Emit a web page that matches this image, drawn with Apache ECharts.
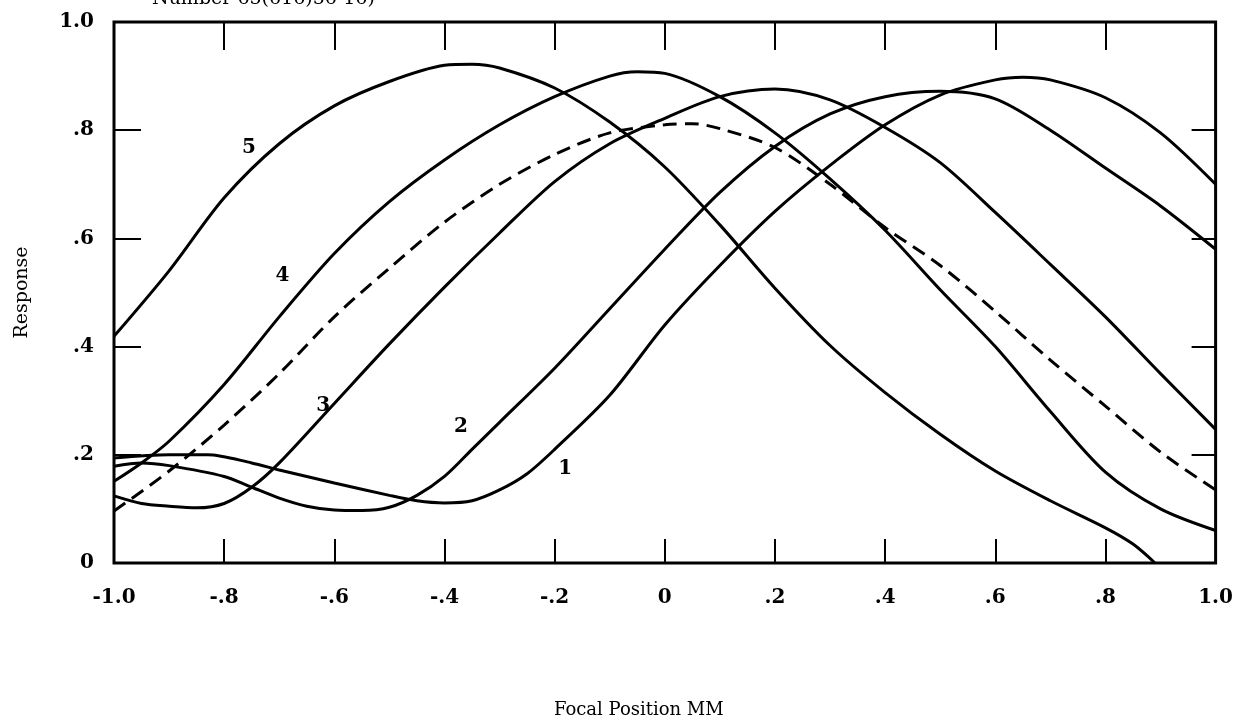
<!DOCTYPE html>
<html><head><meta charset="utf-8">
<script src="https://cdn.jsdelivr.net/npm/echarts@6/dist/echarts.min.js"></script>
<style>html,body{margin:0;padding:0;background:#fff}#c{width:1236px;height:724px}</style>
</head><body><div id="c"></div><script>
const xTickLabels = ['-1.0','-.8','-.6','-.4','-.2','0','.2','.4','.6','.8','1.0'];
const yTickLabels = ['0','.2','.4','.6','.8','1.0'];
const curveLabels = [[-0.755,0.768,'5'],[-0.694,0.53,'4'],[-0.62,0.29,'3'],[-0.37,0.252,'2'],[-0.181,0.175,'1']];

const curve1 = [[-1,0.194],[-0.9,0.2],[-0.83,0.2],[-0.75,0.185],[-0.7,0.172],[-0.6,0.148],[-0.5,0.125],[-0.45,0.115],[-0.4,0.111],[-0.35,0.115],[-0.3,0.135],[-0.25,0.165],[-0.2,0.21],[-0.1,0.31],[0,0.44],[0.1,0.55],[0.2,0.65],[0.3,0.735],[0.4,0.81],[0.5,0.865],[0.6,0.893],[0.65,0.898],[0.7,0.893],[0.8,0.86],[0.9,0.795],[1,0.7]];
const curve2 = [[-1,0.179],[-0.95,0.185],[-0.9,0.18],[-0.8,0.16],[-0.75,0.14],[-0.7,0.12],[-0.65,0.105],[-0.6,0.098],[-0.55,0.097],[-0.5,0.103],[-0.45,0.125],[-0.4,0.16],[-0.35,0.21],[-0.3,0.26],[-0.2,0.36],[-0.1,0.47],[0,0.58],[0.1,0.685],[0.2,0.77],[0.3,0.83],[0.4,0.862],[0.5,0.872],[0.6,0.858],[0.7,0.8],[0.8,0.73],[0.9,0.66],[1,0.58]];
const curve3 = [[-1,0.124],[-0.95,0.11],[-0.9,0.105],[-0.85,0.102],[-0.8,0.11],[-0.75,0.14],[-0.7,0.185],[-0.6,0.295],[-0.5,0.405],[-0.4,0.51],[-0.3,0.61],[-0.2,0.705],[-0.1,0.775],[0,0.822],[0.1,0.862],[0.2,0.876],[0.3,0.856],[0.4,0.805],[0.5,0.74],[0.6,0.648],[0.7,0.552],[0.8,0.455],[0.9,0.35],[1,0.247]];
const curve4 = [[-1,0.151],[-0.95,0.185],[-0.9,0.225],[-0.8,0.33],[-0.7,0.455],[-0.6,0.572],[-0.5,0.668],[-0.4,0.745],[-0.3,0.81],[-0.2,0.862],[-0.1,0.9],[-0.05,0.908],[0,0.905],[0.1,0.862],[0.2,0.795],[0.3,0.71],[0.4,0.615],[0.5,0.505],[0.6,0.4],[0.7,0.28],[0.8,0.168],[0.9,0.1],[1,0.06]];
const curve5 = [[-1,0.419],[-0.9,0.54],[-0.8,0.675],[-0.7,0.775],[-0.6,0.845],[-0.5,0.89],[-0.4,0.92],[-0.35,0.922],[-0.3,0.915],[-0.2,0.878],[-0.1,0.815],[0,0.732],[0.1,0.625],[0.2,0.508],[0.3,0.402],[0.4,0.315],[0.5,0.238],[0.6,0.17],[0.7,0.115],[0.8,0.065],[0.85,0.035],[0.89,0]];
const dashedCurve = [[-1,0.096],[-0.9,0.17],[-0.8,0.255],[-0.7,0.35],[-0.6,0.455],[-0.5,0.545],[-0.4,0.63],[-0.3,0.7],[-0.2,0.755],[-0.1,0.795],[0,0.81],[0.05,0.812],[0.1,0.803],[0.2,0.768],[0.3,0.7],[0.4,0.62],[0.5,0.55],[0.6,0.465],[0.7,0.375],[0.8,0.29],[0.9,0.205],[1,0.135]];

const serif = 'DejaVu Serif';
const xMin = -1, xMax = 1, xInt = 0.2;
const yMin = 0, yMax = 1, yInt = 0.2;
function xFmt(v){ return xTickLabels[Math.round((v - xMin) / xInt)] || ''; }
function yFmt(v){ return yTickLabels[Math.round((v - yMin) / yInt)] || ''; }

function lineSeries(data, dashed){
  return {
    type: 'line', data: data, smooth: 0.3, showSymbol: false, symbol: 'none',
    lineStyle: { color: '#000', width: 3, type: dashed ? [14, 8] : 'solid' },
    z: 3, animation: false
  };
}

const chart = echarts.init(document.getElementById('c'), null, { renderer: 'canvas' });
const tickStyle = { color: '#000', width: 2 };
chart.setOption({
  backgroundColor: '#fff',
  animation: false,
  grid: { left: 114, right: 18, top: 22, bottom: 158, show: true, borderColor: '#000', borderWidth: 3, backgroundColor: 'transparent' },
  graphic: [{
    type: 'text', left: 152, top: -10,
    style: { text: 'Number 65(616)56-16)', font: '19px "DejaVu Serif"', fill: '#000' }
  }],
  xAxis: [{
    type: 'value', min: xMin, max: xMax, interval: xInt, position: 'bottom',
    axisLine: { show: false, onZero: false }, splitLine: { show: false },
    axisTick: { show: true, inside: true, length: 24, lineStyle: tickStyle },
    axisLabel: { formatter: xFmt, margin: 25, color: '#000', fontFamily: serif, fontWeight: 'bold', fontSize: 20 },
    name: 'Focal Position MM', nameLocation: 'middle', nameGap: 138,
    nameTextStyle: { color: '#000', fontFamily: serif, fontSize: 18, padding: [0, 52, 0, 0] }
  }, {
    type: 'value', min: xMin, max: xMax, interval: xInt, position: 'top',
    axisLine: { show: false, onZero: false }, splitLine: { show: false },
    axisTick: { show: true, inside: true, length: 28, lineStyle: tickStyle },
    axisLabel: { show: false }
  }],
  yAxis: [{
    type: 'value', min: yMin, max: yMax, interval: yInt, position: 'left',
    axisLine: { show: false, onZero: false }, splitLine: { show: false },
    axisTick: { show: true, inside: true, length: 27, lineStyle: tickStyle },
    axisLabel: { formatter: yFmt, margin: 20, color: '#000', fontFamily: serif, fontWeight: 'bold', fontSize: 20 },
    name: 'Response', nameLocation: 'middle', nameGap: 82,
    nameTextStyle: { color: '#000', fontFamily: serif, fontSize: 19 }
  }, {
    type: 'value', min: yMin, max: yMax, interval: yInt, position: 'right',
    axisLine: { show: false, onZero: false }, splitLine: { show: false },
    axisTick: { show: true, inside: true, length: 24, lineStyle: tickStyle },
    axisLabel: { show: false }
  }],
  series: [
    lineSeries(curve1, false),
    lineSeries(curve2, false),
    lineSeries(curve3, false),
    lineSeries(curve4, false),
    lineSeries(curve5, false),
    lineSeries(dashedCurve, true),
    {
      type: 'scatter', data: curveLabels, symbolSize: 0, itemStyle: { color: '#fff', opacity: 1 },
      label: { show: true, position: 'inside', formatter: p => p.data[2], color: '#000', opacity: 1, textBorderWidth: 0, fontFamily: serif, fontWeight: 'bold', fontSize: 20 },
      z: 5, silent: true
    }
  ]
});
</script></body></html>
